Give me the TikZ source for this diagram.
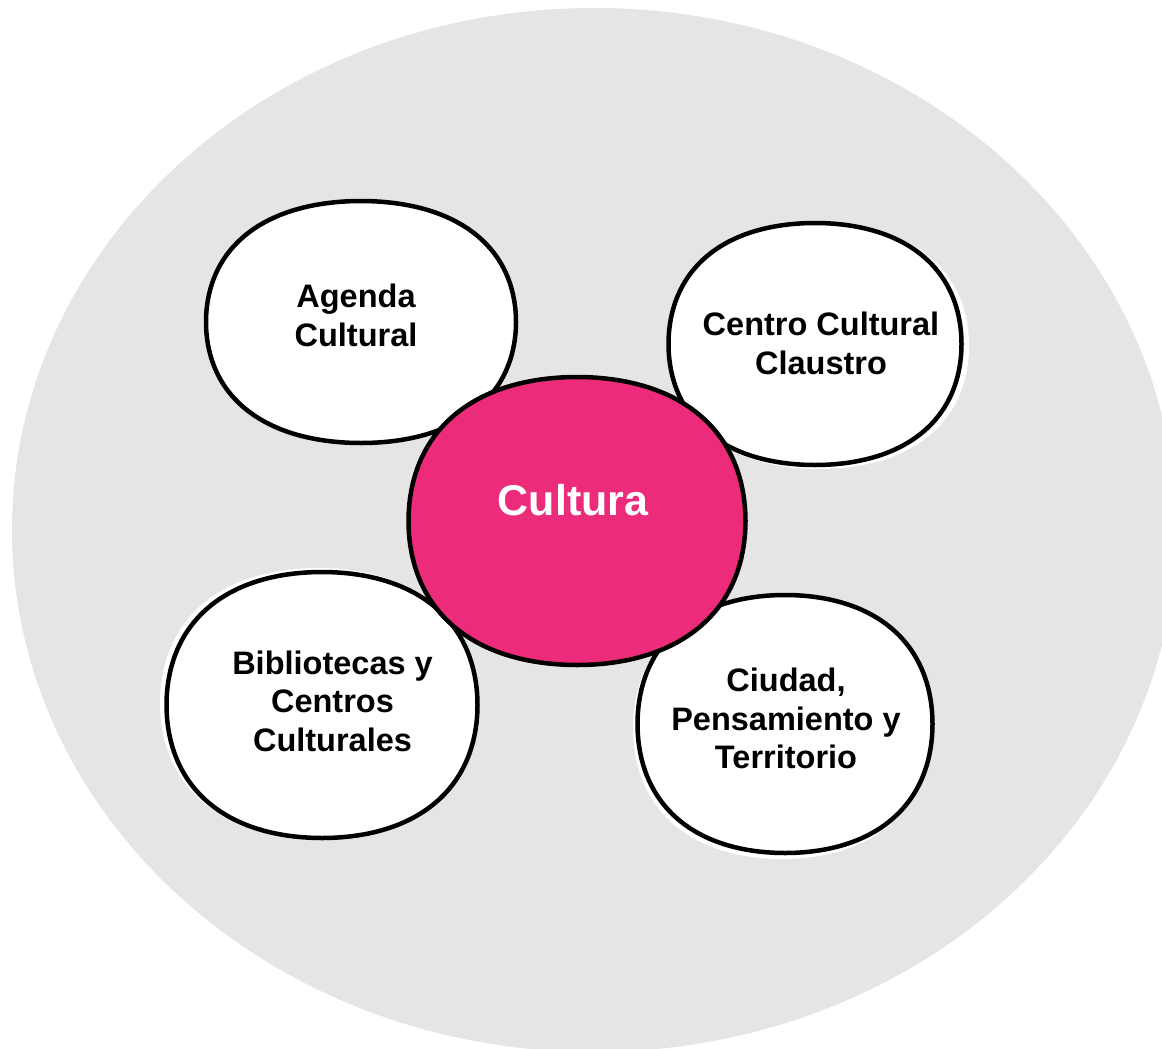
\documentclass[tikz,border=0pt]{standalone}
\usepackage{fontspec}
\setmainfont{Liberation Sans}
\definecolor{bggray}{RGB}{229,229,229}
\definecolor{culturapink}{RGB}{237,43,123}
% rounded blob (ellipse slightly bulged on the diagonals): center x, center y, x radius, y radius, style
\newcommand{\drawblob}[5]{%
  \path[#5] plot[variable=\t, domain=0:357.5, samples=144, smooth cycle]
    ({#1+#3*cos(\t)*(1+0.035*sin(2*\t)*sin(2*\t))},{#2+#4*sin(\t)*(1+0.035*sin(2*\t)*sin(2*\t))});}
\begin{document}
\begin{tikzpicture}[x=1pt,y=-1pt,
  bubble/.style={draw=black, line width=4.5pt, fill=white},
  hubble/.style={draw=black, line width=4.5pt, fill=culturapink},
  halo/.style={fill=white},
  lbl/.style={font=\fontsize{32.5}{38.5}\selectfont\bfseries, align=center, text=black, inner sep=0pt},
  hublbl/.style={font=\fontsize{43}{50}\selectfont\bfseries, align=center, text=white, inner sep=0pt},
]
\useasboundingbox (0,0) rectangle (1162,1049);
\clip (0,0) rectangle (1162,1049);
\fill[bggray] (594,530) ellipse [x radius=582pt, y radius=522pt];

% halos
\drawblob{819}{346}{150}{123}{halo}
\drawblob{318}{703}{158}{135}{halo}
\drawblob{782}{728}{149}{131}{halo}

% bubbles
\drawblob{361}{322}{155}{121}{bubble}
\drawblob{815}{344}{146.5}{121}{bubble}
\drawblob{322}{705}{155.5}{133}{bubble}
\drawblob{785}{724}{147.5}{129}{bubble}
\drawblob{577}{521}{168.5}{144}{hubble}

% labels
\node[lbl] (agenda) at (356,315.5) {Agenda\\Cultural};
\node[lbl] (centro) at (821,343.5) {Centro Cultural\\Claustro};
\node[lbl] (biblio) at (332.5,701) {Bibliotecas y\\Centros\\Culturales};
\node[lbl] (ciudad) at (786,718.5) {Ciudad,\\Pensamiento y\\Territorio};
\node[hublbl] (cultura) at (573,500) {Cultura};
\end{tikzpicture}
\end{document}
